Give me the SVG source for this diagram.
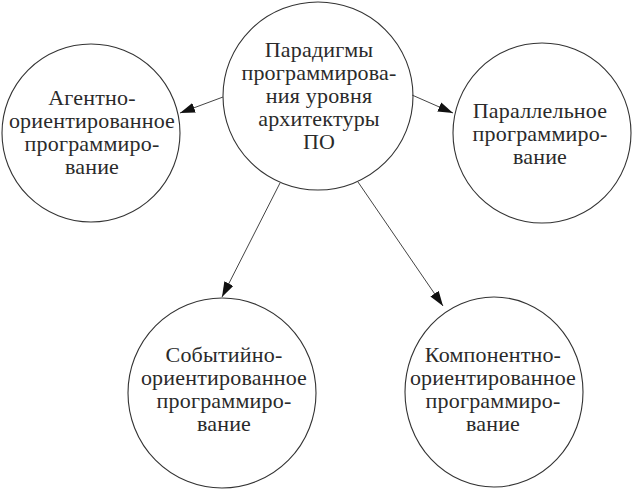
<svg xmlns="http://www.w3.org/2000/svg" width="634" height="491" viewBox="0 0 634 491">
<defs>
<style>
.node ellipse{fill:#fff;stroke:#333;stroke-width:1.1}
.node text{font-family:"Liberation Serif","DejaVu Serif",serif;font-size:22px;letter-spacing:0.2px;fill:#2a2a2a;text-anchor:middle}
.edge{stroke:#444;stroke-width:1;fill:none;marker-end:url(#arr)}
</style>
<marker id="arr" viewBox="0 0 15 10" refX="15" refY="5" markerWidth="15" markerHeight="10" markerUnits="userSpaceOnUse" orient="auto">
<path d="M0,0 L15,5 L0,10 Z" fill="#111"/>
</marker>
</defs>
<rect width="634" height="491" fill="#fff"/>
<g id="center" class="node">
<ellipse cx="318" cy="96" rx="95" ry="94"/>
<text x="319" y="57">Парадигмы</text>
<text x="319" y="80">программирова-</text>
<text x="319" y="103">ния уровня</text>
<text x="319" y="126">архитектуры</text>
<text x="319" y="149">ПО</text>
</g>
<g id="agent" class="node">
<ellipse cx="91" cy="133" rx="89" ry="89"/>
<text x="92" y="105">Агентно-</text>
<text x="92" y="128">ориентированное</text>
<text x="92" y="151">программиро-</text>
<text x="92" y="174">вание</text>
</g>
<g id="parallel" class="node">
<ellipse cx="542" cy="133" rx="89" ry="90"/>
<text x="540" y="118">Параллельное</text>
<text x="540" y="141">программиро-</text>
<text x="540" y="164">вание</text>
</g>
<g id="event" class="node">
<ellipse cx="222" cy="393" rx="94" ry="95"/>
<text x="224" y="362">Событийно-</text>
<text x="224" y="385">ориентированное</text>
<text x="224" y="408">программиро-</text>
<text x="224" y="431">вание</text>
</g>
<g id="component" class="node">
<ellipse cx="494" cy="392" rx="89" ry="95"/>
<text x="493" y="362">Компонентно-</text>
<text x="493" y="385">ориентированное</text>
<text x="493" y="408">программиро-</text>
<text x="493" y="431">вание</text>
</g>
<g id="connectors">
<line class="edge" x1="223" y1="97" x2="180" y2="113"/>
<line class="edge" x1="412" y1="95" x2="453" y2="113"/>
<line class="edge" x1="280" y1="183" x2="222" y2="297"/>
<line class="edge" x1="358" y1="182" x2="443" y2="306"/>
</g>
</svg>
